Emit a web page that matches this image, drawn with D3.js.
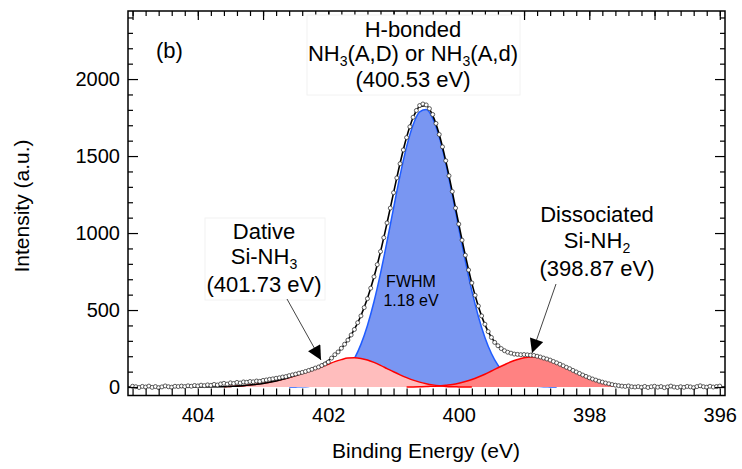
<!DOCTYPE html>
<html>
<head>
<meta charset="utf-8">
<script src="https://cdn.jsdelivr.net/npm/d3@7"></script>
<style>
    body { margin: 0; background: #fff; }
    svg { display: block; font-family: 'Liberation Sans', Arial, sans-serif; }
</style>
</head>
<body>
<div id="chart"></div>
<script>
const width = 742;
const height = 469;

// fitted components, sampled every 0.1 eV starting at 403.6 eV (going down)
const fitStart = 403.6;
const fitStep = 0.1;
const datStart = 405.0;
const datStep = 0.05;

// dative Si-NH3 (401.73 eV)
const dativePeak = [
    2, 4, 6, 9, 13, 18, 24, 31, 40, 50,
    62, 75, 88, 102, 117, 132, 148, 165, 178, 188,
    190, 186, 176, 160, 141, 120, 99, 79, 61, 45,
    32, 22, 14, 8, 4, 2, 1, 0, 0, 0,
    0, 0, 0, 0, 0, 0, 0, 0, 0, 0,
    0, 0, 0, 0, 0, 0, 0, 0, 0, 0,
    0, 0, 0, 0, 0, 0, 0,
];
// H-bonded NH3 (400.53 eV)
const hbondPeak = [
    0, 0, 0, 0, 0, 0, 0, 0, 0, 0,
    0, 1, 2, 4, 7, 13, 24, 43, 73, 118,
    185, 277, 400, 554, 738, 945, 1162, 1374, 1561, 1704,
    1787, 1802, 1745, 1625, 1453, 1249, 1031, 819, 624, 458,
    322, 218, 142, 89, 53, 31, 17, 9, 5, 2,
    1, 0, 0, 0, 0, 0, 0, 0, 0, 0,
    0, 0, 0, 0, 0, 0, 0,
];
// dissociated Si-NH2 (398.87 eV)
const dissocPeak = [
    0, 0, 0, 0, 0, 0, 0, 0, 0, 0,
    0, 0, 0, 0, 0, 0, 0, 0, 0, 0,
    0, 0, 0, 0, 0, 0, 0, 0, 0, 1,
    2, 3, 5, 7, 12, 17, 25, 36, 49, 65,
    83, 104, 125, 145, 164, 179, 190, 195, 194, 186,
    174, 157, 137, 116, 95, 76, 58, 44, 31, 22,
    15, 10, 6, 4, 2, 1, 0,
];

// measured spectrum, 405.00 -> 396.00 eV in 0.05 eV steps
const measured = [
    5, 2, -3, 4, 0, 6, -2, 3, -4, 1, 7, 2, -1, 5, 3,
    6, 3, 8, 5, 10, 7, 12, 9, 14, 11, 17, 13, 20, 24, 19,
    27, 23, 30, 26, 33, 31, 36, 34, 39, 37, 43,
    46, 50, 53, 57, 60, 65, 68, 74, 79, 84, 90, 95, 101, 108, 115, 123, 130, 140, 150, 162,
    188, 210, 228, 252, 278, 305, 338, 374, 418, 462, 516, 574, 642, 716, 795, 880, 970, 1066, 1162, 1262,
    1358, 1450, 1540, 1620, 1690, 1752, 1796, 1828, 1838, 1832, 1808, 1770, 1712, 1640, 1560, 1470, 1372, 1270, 1162, 1058,
    954, 856, 760, 676, 596, 526, 462, 408, 360, 322, 290, 268, 250, 236, 226, 220, 214, 212, 210, 211,
    209, 207, 205, 200, 195, 188, 182, 175, 166, 157, 148, 138, 128, 119, 108, 98, 88, 78, 69, 60,
    52, 45, 38, 32, 26, 21, 16, 12, 9, 6, 4, 7, 2, 0,
    3, -2, 4, -3, 2, 5, -1, 3, -4, 1, 6, 0, -3, 2, -2, 4, 1, -4, 3, 8, 2, -1, 5, 0, 3, 6,
];

const yMajor = [0, 500, 1000, 1500, 2000];
const xLabels = [404, 402, 400, 398, 396];

const fitRows = dativePeak.map((v, i) => ({
    e: fitStart - i * fitStep,
    dat: v,
    hb: hbondPeak[i],
    dis: dissocPeak[i],
    total: v + hbondPeak[i] + dissocPeak[i],
}));
const points = measured.map((v, i) => ({ e: datStart - i * datStep, v: v }));

const pLeft = 128, pTop = 11, pRight = 725, pBottom = 395.5;

const x = d3.scaleLinear().domain([405.07, 395.92]).range([pLeft, pRight]);
const y = d3.scaleLinear().domain([-55, 2442]).range([pBottom, pTop]);

const svg = d3
    .select('#chart')
    .append('svg')
    .attr('width', width)
    .attr('height', height);

const area = (key) =>
    d3.area()
        .x((d) => x(d.e))
        .y0(y(0))
        .y1((d) => y(d[key]))
        .curve(d3.curveMonotoneX);
const line = (key) =>
    d3.line()
        .x((d) => x(d.e))
        .y((d) => y(d[key]))
        .curve(d3.curveMonotoneX);

const hbRows = fitRows.filter((d) => d.e <= 402.6 && d.e >= 398.5);
const datRows = fitRows.filter((d) => d.e >= 399.8);
const disRows = fitRows.filter((d) => d.e <= 400.8);

// blue component
svg.append('path').datum(hbRows).attr('d', area('hb')).attr('fill', '#7996f2');
svg.append('path')
    .datum(hbRows)
    .attr('d', line('hb'))
    .attr('fill', 'none')
    .attr('stroke', '#1f5cff')
    .attr('stroke-width', 1.5);

// red components
svg.append('path').datum(datRows).attr('d', area('dat')).attr('fill', '#ffbdbd');
svg.append('path').datum(disRows).attr('d', area('dis')).attr('fill', '#ff8282');
[['dat', datRows], ['dis', disRows]].forEach(([k, rows]) => {
    svg.append('path')
        .datum(rows)
        .attr('d', line(k))
        .attr('fill', 'none')
        .attr('stroke', '#ff0000')
        .attr('stroke-width', 1.5);
});

// envelope
const envRows = [{ e: 405.07, total: 0 }, ...fitRows, { e: 395.92, total: 0 }];
svg.append('path')
    .datum(envRows)
    .attr('d', line('total'))
    .attr('fill', 'none')
    .attr('stroke', '#000')
    .attr('stroke-width', 1.6);

svg.append('g')
    .selectAll('circle')
    .data(points)
    .enter()
    .append('circle')
    .attr('cx', (d) => x(d.e))
    .attr('cy', (d) => y(d.v))
    .attr('r', 2)
    .attr('fill', '#fff')
    .attr('stroke', '#333')
    .attr('stroke-width', 0.8);

// axes
const yMinor = d3.range(-0, 2401, 100).filter((v) => v % 500 !== 0);
const xMinor = d3.range(396, 405.01, 0.2).map((v) => +v.toFixed(1));
const xInt = d3.range(396, 406, 1);

function ax(gen, tx, ty) {
    const g = svg.append('g').attr('transform', `translate(${tx},${ty})`).call(gen);
    g.select('.domain').remove();
    g.selectAll('line').attr('stroke', '#000').attr('stroke-width', 1.2);
    g.selectAll('text')
        .attr('font-family', "'Liberation Sans', Arial, sans-serif")
        .attr('font-size', 20)
        .attr('fill', '#000');
    return g;
}

ax(d3.axisLeft(y).tickValues(yMajor).tickSize(-10).tickPadding(8).tickFormat(d3.format('d')), pLeft, 0);
ax(d3.axisLeft(y).tickValues(yMinor).tickSize(-5).tickFormat(''), pLeft, 0);
ax(d3.axisRight(y).tickValues(yMajor).tickSize(-10).tickFormat(''), pRight, 0);
ax(d3.axisRight(y).tickValues(yMinor).tickSize(-5).tickFormat(''), pRight, 0);
ax(
    d3.axisBottom(x)
        .tickValues(xMinor)
        .tickSize(-7)
        .tickPadding(12)
        .tickFormat((d) => (xLabels.includes(d) ? d : '')),
    0,
    pBottom
);
ax(d3.axisTop(x).tickValues(xMinor).tickSize(-5).tickFormat(''), 0, pTop);
ax(d3.axisTop(x).tickValues(xInt).tickSize(-9).tickFormat(''), 0, pTop);

svg.append('rect')
    .attr('x', pLeft)
    .attr('y', pTop)
    .attr('width', pRight - pLeft)
    .attr('height', pBottom - pTop)
    .attr('fill', 'none')
    .attr('stroke', '#000')
    .attr('stroke-width', 1.5);

svg.append('text')
    .attr('x', 426)
    .attr('y', 458)
    .attr('text-anchor', 'middle')
    .attr('font-size', 21)
    .text('Binding Energy (eV)');

svg.append('text')
    .attr('transform', 'translate(29,206) rotate(-90)')
    .attr('text-anchor', 'middle')
    .attr('font-size', 21)
    .text('Intensity (a.u.)');

svg.append('text').attr('x', 156).attr('y', 58).attr('font-size', 22).text('(b)');

// annotations
svg.append('rect')
    .attr('x', 307).attr('y', 15).attr('width', 213).attr('height', 80)
    .attr('fill', '#fff').attr('stroke', '#f2f2f2');
svg.append('rect')
    .attr('x', 205).attr('y', 218).attr('width', 120).attr('height', 82)
    .attr('fill', '#fff').attr('stroke', '#f2f2f2');

function label(cx, ys, lines, size) {
    lines.forEach((parts, i) => {
        const t = svg.append('text')
            .attr('x', cx)
            .attr('y', ys[i])
            .attr('text-anchor', 'middle')
            .attr('font-size', size);
        let shift = 0;
        parts.forEach((p) => {
            const sub = typeof p === 'object';
            const want = sub ? 5 : 0;
            t.append('tspan')
                .attr('dy', want - shift)
                .attr('font-size', sub ? size * 0.64 : size)
                .text(sub ? p.lo : p);
            shift = want;
        });
    });
}

label(413, [37, 61, 87], [
    ['H-bonded'],
    ['NH', { lo: '3' }, '(A,D) or NH', { lo: '3' }, '(A,d)'],
    ['(400.53 eV)'],
], 22);
label(264, [239, 264, 292], [['Dative'], ['Si-NH', { lo: '3' }], ['(401.73 eV)']], 22);
label(597, [222, 248, 276], [['Dissociated'], ['Si-NH', { lo: '2' }], ['(398.87 eV)']], 22);
label(411, [287, 306], [['FWHM'], ['1.18 eV']], 16);

// arrows
svg.append('defs')
    .append('marker')
    .attr('id', 'head')
    .attr('viewBox', '0 0 10 10')
    .attr('refX', 10)
    .attr('refY', 5)
    .attr('markerWidth', 16)
    .attr('markerHeight', 14)
    .attr('markerUnits', 'userSpaceOnUse')
    .attr('orient', 'auto')
    .append('path')
    .attr('d', 'M0,0L10,5L0,10Z')
    .attr('fill', '#000');

[[287, 299, 321, 360], [556, 284, 532, 353]].forEach(([x1, y1, x2, y2]) => {
    svg.append('line')
        .attr('x1', x1).attr('y1', y1).attr('x2', x2).attr('y2', y2)
        .attr('stroke', '#444')
        .attr('stroke-width', 1)
        .attr('marker-end', 'url(#head)');
});
</script>
</body>
</html>
